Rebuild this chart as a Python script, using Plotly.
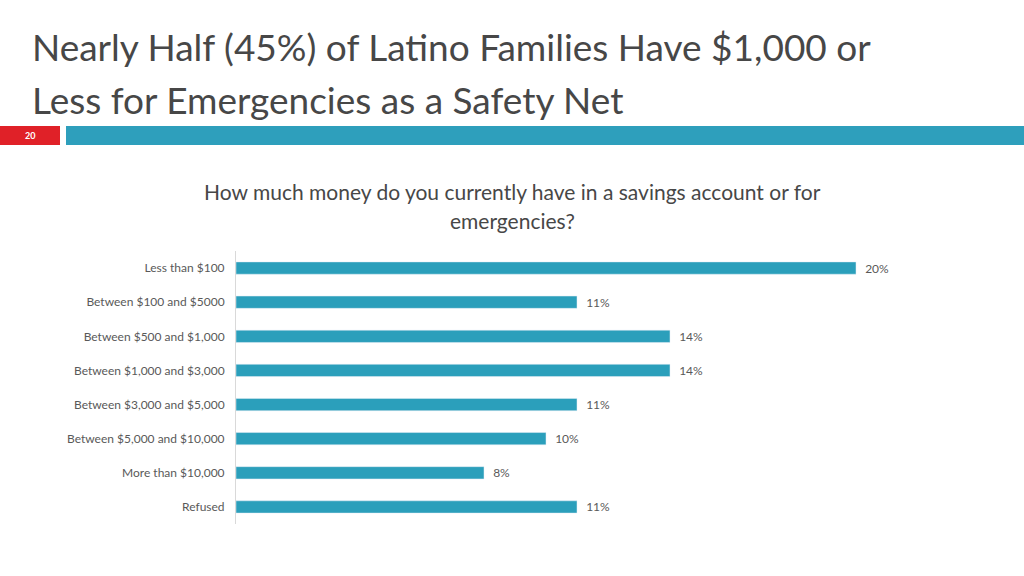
import plotly.graph_objects as go

categories = ["Less than $100", "Between $100 and $5000", "Between $500 and $1,000",
              "Between $1,000 and $3,000", "Between $3,000 and $5,000",
              "Between $5,000 and $10,000", "More than $10,000", "Refused"]
values = [20, 11, 14, 14, 11, 10, 8, 11]
labels = [f"  {v}%" for v in values]

W, H = 1024, 576
FONT = "Lato"
GRAY = "#474747"

fig = go.Figure(go.Bar(
    x=values, y=categories, orientation="h",
    marker=dict(color="#2B9FBB"),
    text=labels, textposition="outside", cliponaxis=False, constraintext="none",
    textfont=dict(size=12, color="#595959", family=FONT),
    width=0.36,
))

fig.update_layout(
    width=W, height=H,
    margin=dict(l=0, r=0, t=0, b=0),
    plot_bgcolor="white", paper_bgcolor="white",
    showlegend=False,
    font=dict(family=FONT),
    uniformtext=dict(minsize=12, mode="show"),
    xaxis=dict(domain=[236 / W, 918 / W], range=[0, 22], showgrid=False,
               showticklabels=False, zeroline=False, showline=False),
    yaxis=dict(domain=[1 - 524 / H, 1 - 251 / H], autorange="reversed",
               showgrid=False, zeroline=False, showline=True, linecolor="#D9D9D9",
               linewidth=1, ticks="", automargin=False, ticklabelstandoff=8,
               tickfont=dict(size=12, color="#595959", family=FONT)),
    shapes=[
        dict(type="rect", xref="paper", yref="paper", x0=0, x1=60 / W,
             y0=1 - 145 / H, y1=1 - 126 / H, fillcolor="#E02128", line=dict(width=0)),
        dict(type="rect", xref="paper", yref="paper", x0=66 / W, x1=1,
             y0=1 - 145 / H, y1=1 - 126 / H, fillcolor="#2E9FBC", line=dict(width=0)),
    ],
    annotations=[
        dict(text="Nearly Half (45%) of Latino Families Have $1,000 or",
             xref="paper", yref="paper", x=30 / W, y=1 - 47 / H, xanchor="left", yanchor="middle",
             align="left", showarrow=False,
             font=dict(size=37, color=GRAY, family=FONT)),
        dict(text="Less for Emergencies as a Safety Net",
             xref="paper", yref="paper", x=30 / W, y=1 - 99 / H, xanchor="left", yanchor="middle",
             align="left", showarrow=False,
             font=dict(size=37, color=GRAY, family=FONT)),
        dict(text="<b>20</b>", xref="paper", yref="paper", x=30 / W, y=1 - 135.5 / H,
             xanchor="center", yanchor="middle", showarrow=False,
             font=dict(size=9, color="white", family=FONT)),
        dict(text="How much money do you currently have in a savings account or for",
             xref="paper", yref="paper", x=512 / W, y=1 - 192 / H, xanchor="center", yanchor="middle",
             showarrow=False, font=dict(size=21, color=GRAY, family=FONT)),
        dict(text="emergencies?",
             xref="paper", yref="paper", x=512 / W, y=1 - 220 / H, xanchor="center", yanchor="middle",
             showarrow=False, font=dict(size=21, color=GRAY, family=FONT)),
    ],
)

fig.write_html("out.html", config={"displayModeBar": False},
               post_script="document.body.style.margin='0';")
